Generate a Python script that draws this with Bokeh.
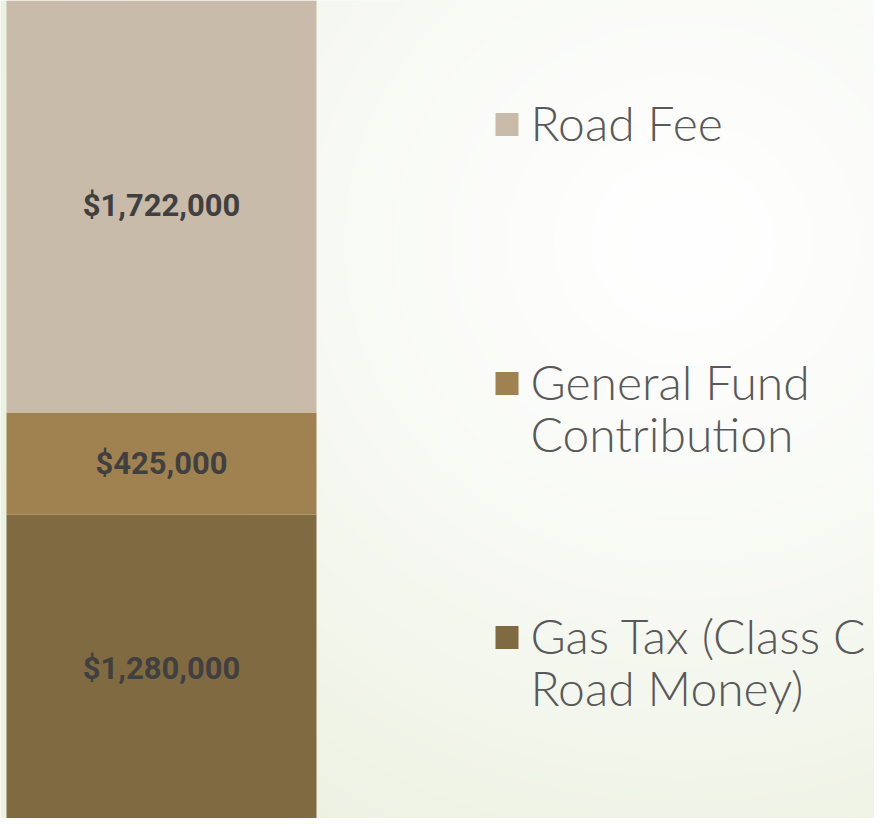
import numpy as np
from bokeh.plotting import figure
from bokeh.models import Range1d, ColumnDataSource
from bokeh.core.properties import value
from bokeh.embed import file_html
from bokeh.resources import INLINE

# ---- data (bottom to top of the stack) ----
categories = ["Gas Tax (Class C\nRoad Money)", "General Fund\nContribution", "Road Fee"]
amounts = [1280000, 425000, 1722000]
colors = ["#806A41", "#A08250", "#C8BBAA"]

W, H = 874, 818
total = sum(amounts)
dpp = total / 824.0  # dollars per pixel

p = figure(width=W, height=H, output_backend="svg", toolbar_location=None,
           x_range=Range1d(0, W),
           y_range=Range1d(start=4 * dpp, end=total - 2 * dpp),
           min_border=0, min_border_left=0, min_border_right=0,
           min_border_top=0, min_border_bottom=0)
p.axis.visible = False
p.grid.visible = False
p.outline_line_color = None
p.background_fill_color = "#f7f8f2"
p.border_fill_color = "#f7f8f2"
p.extra_y_ranges = {"px": Range1d(start=H, end=0), "bg": Range1d(start=0, end=H)}

# ---- background radial gradient ----
yy, xx = np.mgrid[0:H, 0:W]
page_y = (H - 1 - yy) + 8.0
page_x = xx + 8.0
cx, cy = 690.0, 250.0
d = np.sqrt(((page_x - cx) / 1.0) ** 2 + ((page_y - cy) / 0.95) ** 2)
t = np.clip(d / 760.0, 0, 1) ** 1.3
edge = np.array([235, 241, 224], dtype=float)
white = np.array([255, 255, 255], dtype=float)
rgb = white[None, None, :] * (1 - t[..., None]) + edge[None, None, :] * t[..., None]
img = np.empty((H, W), dtype=np.uint32)
view = img.view(dtype=np.uint8).reshape((H, W, 4))
view[..., 0] = rgb[..., 0].astype(np.uint8)
view[..., 1] = rgb[..., 1].astype(np.uint8)
view[..., 2] = rgb[..., 2].astype(np.uint8)
view[..., 3] = 255
p.image_rgba(image=[img], x=0, y=0, dw=W, dh=H, y_range_name="bg", level="image")

# ---- stacked bar ----
bottoms = list(np.cumsum([0] + amounts[:-1]))
tops = list(np.cumsum(amounts))
src = ColumnDataSource(dict(
    bottom=bottoms, top=tops, color=colors,
    mid=[(b + t_) / 2 for b, t_ in zip(bottoms, tops)],
    label=["${:,}".format(a) for a in amounts],
))
bar_x = 161
p.vbar(x=bar_x, width=310, bottom="bottom", top="top", fill_color="color",
       line_color=None, source=src)
p.text(x=bar_x, y="mid", text="label", source=src, text_align="center",
       text_baseline="middle", text_font=value("Roboto"), text_font_style="bold",
       text_font_size="31px", text_color="#404040")

# ---- legend (drawn manually) ----
leg_y = [637, 383, 124]  # pixel offsets of each item, bottom item first
leg_lines_x, leg_lines_y, leg_lines_t = [], [], []
for lab, y0 in zip(categories, leg_y):
    for i, line in enumerate(lab.split("\n")):
        leg_lines_x.append(530)
        leg_lines_y.append(y0 - 2 + i * 52)
        leg_lines_t.append(line)
p.scatter(x=[506.5] * 3, y=leg_y, marker="square", size=23, fill_color=colors,
          line_color=None, y_range_name="px")
p.text(x=leg_lines_x, y=leg_lines_y, text=leg_lines_t, y_range_name="px",
       text_align="left", text_baseline="middle", text_font=value("Lato Light"),
       text_font_size="48px", text_color="#595959")

open("out.html", "w").write(file_html(p, INLINE))
